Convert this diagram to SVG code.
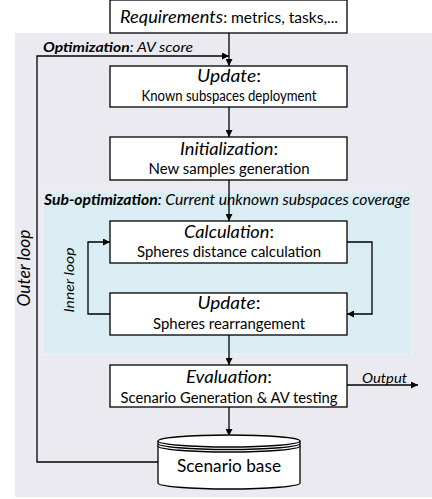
<svg xmlns="http://www.w3.org/2000/svg" width="432" height="499" viewBox="0 0 432 499">
<style>
text{font-family:Lato,"Open Sans","Liberation Sans",sans-serif;fill:#000}
.box{fill:#fff;stroke:#000;stroke-width:1.3}
.h{font-size:17px;font-style:italic}
.b{font-size:14.5px}
.c{text-anchor:middle}
.ln{fill:none;stroke:#000;stroke-width:1.3}
.lab{font-size:14px;font-style:italic}
</style>
<defs>
<marker id="ah" viewBox="0 0 10 10" refX="10" refY="5" markerWidth="8" markerHeight="7" markerUnits="userSpaceOnUse" orient="auto">
<path d="M0,0 L10,5 L0,10 z" fill="#000"/>
</marker>
</defs>
<g id="background">
<rect x="15" y="33" width="417" height="464" fill="#eceaf1"/>
<rect id="suboptimization" x="43" y="192" width="369" height="162" fill="#daedf3" stroke="#f4f4f6" stroke-width="1.2" stroke-dasharray="5,3"/>
<text x="43" y="52" font-size="14px" textLength="150" lengthAdjust="spacingAndGlyphs"><tspan font-weight="bold" font-style="italic">Optimization</tspan><tspan font-style="italic">: AV score</tspan></text>
<text x="44" y="205" font-size="14.5px" textLength="366" lengthAdjust="spacingAndGlyphs"><tspan font-weight="bold" font-style="italic">Sub-optimization</tspan><tspan font-style="italic">: Current unknown subspaces coverage</tspan></text>
<text class="c" font-size="17px" font-style="italic" transform="translate(30,268) rotate(-90)" textLength="77" lengthAdjust="spacingAndGlyphs">Outer loop</text>
<text class="c lab" transform="translate(74,280) rotate(-90)" textLength="65" lengthAdjust="spacingAndGlyphs">Inner loop</text>
</g>
<g id="connectors">
<line class="ln" x1="229" y1="33" x2="229" y2="66" marker-end="url(#ah)"/>
<polyline class="ln" points="158,462 37,462 37,56 229,56" marker-end="url(#ah)"/>
<line class="ln" x1="229" y1="107" x2="229" y2="137" marker-end="url(#ah)"/>
<line class="ln" x1="229" y1="180" x2="229" y2="221" marker-end="url(#ah)"/>
<polyline class="ln" points="347,242 372,242 372,314 347,314" marker-end="url(#ah)"/>
<polyline class="ln" points="110,314 88,314 88,242 110,242" marker-end="url(#ah)"/>
<line class="ln" x1="229" y1="335" x2="229" y2="365" marker-end="url(#ah)"/>
<line class="ln" x1="229" y1="407" x2="229" y2="436" marker-end="url(#ah)"/>
<line class="ln" x1="347" y1="385" x2="418" y2="385" marker-end="url(#ah)"/>
<text class="lab" x="362" y="383" font-size="14.5px" textLength="45" lengthAdjust="spacingAndGlyphs">Output</text>
</g>
<g id="requirements">
<rect class="box" x="110" y="0" width="237" height="33"/>
<text x="120" y="23" textLength="218" lengthAdjust="spacingAndGlyphs"><tspan class="h">Requirements</tspan><tspan class="b">: metrics, tasks,...</tspan></text>
</g>
<g id="update1">
<rect class="box" x="110" y="66" width="237" height="41"/>
<text class="c h" x="229" y="82" textLength="64" lengthAdjust="spacingAndGlyphs">Update<tspan font-style="normal">:</tspan></text>
<text class="c b" x="229" y="101" textLength="175" lengthAdjust="spacingAndGlyphs">Known subspaces deployment</text>
</g>
<g id="initialization">
<rect class="box" x="110" y="137" width="237" height="43"/>
<text class="c h" x="229" y="155" textLength="98" lengthAdjust="spacingAndGlyphs">Initialization<tspan font-style="normal">:</tspan></text>
<text class="c b" x="229" y="174" textLength="161" lengthAdjust="spacingAndGlyphs">New samples generation</text>
</g>
<g id="calculation">
<rect class="box" x="110" y="221" width="237" height="42"/>
<text class="c h" x="229" y="238" textLength="90" lengthAdjust="spacingAndGlyphs">Calculation<tspan font-style="normal">:</tspan></text>
<text class="c b" x="229" y="257" textLength="184" lengthAdjust="spacingAndGlyphs">Spheres distance calculation</text>
</g>
<g id="update2">
<rect class="box" x="110" y="293" width="237" height="42"/>
<text class="c h" x="229" y="309" textLength="63" lengthAdjust="spacingAndGlyphs">Update<tspan font-style="normal">:</tspan></text>
<text class="c b" x="229" y="329" textLength="152" lengthAdjust="spacingAndGlyphs">Spheres rearrangement</text>
</g>
<g id="evaluation">
<rect class="box" x="110" y="365" width="237" height="42"/>
<text class="c h" x="229" y="383" textLength="86" lengthAdjust="spacingAndGlyphs">Evaluation<tspan font-style="normal">:</tspan></text>
<text class="c b" x="229" y="403" textLength="217" lengthAdjust="spacingAndGlyphs">Scenario Generation &amp; AV testing</text>
</g>
<g id="scenariobase">
<path class="box" d="M158,441 A71,6 0 0 1 300,441 L300,483 A71,6 0 0 1 158,483 Z"/>
<path class="ln" d="M158,441 A71,6 0 0 0 300,441 M158,443.5 A71,6 0 0 0 300,443.5 M158,446 A71,6 0 0 0 300,446" />
<text class="c" x="229" y="472" font-size="17.5px" textLength="104" lengthAdjust="spacingAndGlyphs">Scenario base</text>
</g>
</svg>
